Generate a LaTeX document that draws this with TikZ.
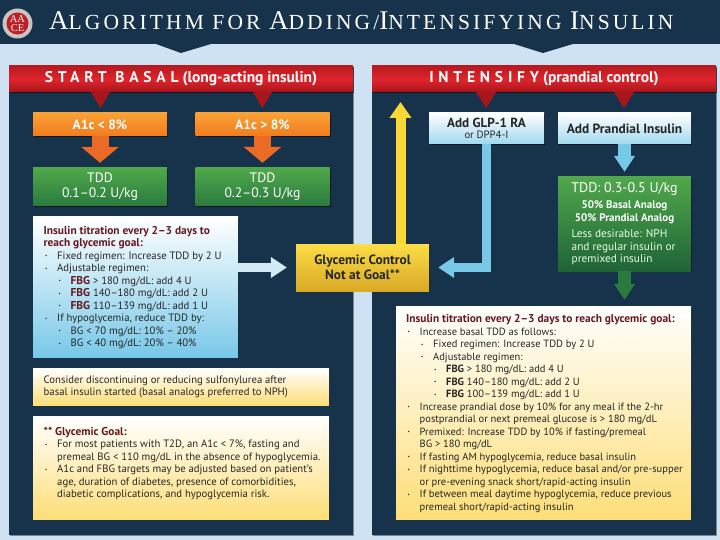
\documentclass[tikz,border=0pt]{standalone}
\usepackage{fontspec}
\setmainfont{PT Sans}
\newfontfamily\titlefont[LetterSpace=14.5]{Liberation Serif}
\usetikzlibrary{arrows.meta,shadows}
\definecolor{navy}{HTML}{17324B}
\definecolor{pagebg}{HTML}{CFE2F3}
\definecolor{bandtop}{HTML}{B8191F}
\definecolor{bandmid}{HTML}{E0242C}
\definecolor{bandlow}{HTML}{A8161C}
\definecolor{maroon}{HTML}{651A20}
\definecolor{skyarrow}{HTML}{78C8E8}
\definecolor{palearrow}{HTML}{D3E9F4}
\definecolor{inktext}{HTML}{262626}
\definecolor{orangetop}{HTML}{F9A235}
\definecolor{orangelow}{HTML}{F17B20}
\definecolor{orangearrow}{HTML}{EB6A26}
\definecolor{greentop}{HTML}{50A84B}
\definecolor{greenlow}{HTML}{2A7A3F}
\definecolor{greendeep}{HTML}{1F6337}
\definecolor{greenarrow}{HTML}{2A7A40}
\definecolor{goldtop}{HTML}{FBDD45}
\definecolor{goldlow}{HTML}{D9A926}
\definecolor{goldarrow}{HTML}{F9D836}
\definecolor{creamlow}{HTML}{FDDE78}
% list lines
\newcommand{\dotm}{{\fontsize{5}{5}\selectfont\raisebox{1.4pt}{•}}}
\newcommand{\lone}[1]{\hspace*{1.5pt}\makebox[12pt][l]{\dotm}#1}
\newcommand{\ltwo}[1]{\hspace*{15pt}\makebox[12pt][l]{\dotm}#1}
\newcommand{\lthree}[1]{\hspace*{28pt}\makebox[12pt][l]{\dotm}#1}
\newcommand{\lcont}[1]{\hspace*{13.5pt}#1}
\newcommand{\hd}[1]{\textcolor{maroon}{\fontsize{11.4}{12.5}\selectfont\textbf{#1}}}
\newcommand{\spaced}[1]{{\addfontfeature{LetterSpace=31}#1}}
\tikzset{
  box/.style={rectangle,inner sep=0pt,drop shadow={shadow xshift=1.2pt,shadow yshift=-1.2pt,opacity=0.55,fill=black}},
  panel/.style={rectangle,inner sep=0pt,fill=navy,minimum width=344pt,minimum height=469pt,drop shadow={shadow xshift=1.2pt,shadow yshift=-1.2pt,opacity=0.4,fill=black}},
  band/.style={box,minimum width=344pt,minimum height=26pt,top color=bandtop,bottom color=bandlow,middle color=bandmid,text=white,font=\fontsize{15.5}{17}\selectfont\bfseries},
  orangebox/.style={box,minimum width=134pt,minimum height=23pt,top color=orangetop,bottom color=orangelow,text=white,font=\fontsize{13.5}{15}\selectfont\bfseries},
  greenbox/.style={box,minimum width=134pt,minimum height=38pt,top color=greentop,bottom color=greenlow,text=white,font=\fontsize{13.7}{15}\selectfont,align=center},
  bluebox/.style={box,top color=white,bottom color=skyarrow},
  creambox/.style={box,top color=white,bottom color=creamlow},
  notetext/.style={inner sep=0pt,anchor=north west,align=left,text=inktext,font=\fontsize{10.7}{12.5}\selectfont},
  blockarrow/.style={line width=#1pt,-{Triangle[length=16pt,width=20pt]}},
  blockarrow/.default=9,
}
\begin{document}
\begin{tikzpicture}[x=1pt,y=-1pt]
\useasboundingbox (0,0) rectangle (720,540);
\fill[pagebg] (0,0) rectangle (720,540);
% ---------- header ----------
\fill[navy] (0,0) -- (720,0) -- (720,44) -- (573,44) -- (543,53) -- (514,44) -- (211,44) -- (181,53) -- (156,44) -- (0,44) -- cycle;
\node[circle,inner sep=0pt,minimum size=30pt,fill=gray!45] (logoring) at (17.5,23.5) {};
\node[circle,inner sep=0pt,minimum size=22pt,fill=bandmid!85!black,text=white,align=center,font=\fontspec{Liberation Serif}\fontsize{10.5}{9}\selectfont] (logo) at (17.5,23.5) {AA\\CE};
\node[anchor=base west,inner sep=0pt,text=white,font=\titlefont\fontsize{21.5}{24}\selectfont] (title) at (49,30) {{\fontsize{27}{27}\selectfont A}LGORITHM FOR {\fontsize{27}{27}\selectfont A}DDING/{\fontsize{27}{27}\selectfont I}NTENSIFYING {\fontsize{27}{27}\selectfont I}NSULIN};
% ---------- panels ----------
\node[panel] (basalpanel) at (181,300.5) {};
\node[panel] (intpanel) at (544,300.5) {};
\node[band] (basalband) at (181,79) {\spaced{START BASAL} (long-acting insulin)};
\node[band] (intband) at (544,79) {\spaced{INTENSIFY} (prandial control)};
\fill[bandlow] (91,92) -- (110,92) -- (100.5,108) -- cycle;
\fill[bandlow] (253,92) -- (272,92) -- (262.5,108) -- cycle;
\fill[bandlow] (476,92) -- (496,92) -- (486,108) -- cycle;
\fill[bandlow] (614,92) -- (634,92) -- (624,108) -- cycle;
% ---------- start basal ----------
\node[orangebox] (lowa) at (100,124.5) {A1c < 8\%};
\node[orangebox] (higha) at (262.5,124.5) {A1c > 8\%};
\node[greenbox] (lowtdd) at (100,187) {TDD\\0.1--0.2 U/kg};
\node[greenbox] (hightdd) at (262.5,187) {TDD\\0.2--0.3 U/kg};
\draw[orangearrow,line width=17pt,-{Triangle[length=16pt,width=37pt]},shorten >=5pt] (lowa.south) -- (lowtdd.north);
\draw[orangearrow,line width=17pt,-{Triangle[length=16pt,width=37pt]},shorten >=5pt] (higha.south) -- (hightdd.north);
\node[bluebox,minimum width=205pt,minimum height=140pt] (titr) at (135.5,287) {};
\node[notetext] (titrtext) at (43.5,226) {\hd{Insulin titration every 2--3 days to}\\
\hd{reach glycemic goal:}\\
\lone{Fixed regimen: Increase TDD by 2 U}\\
\lone{Adjustable regimen:}\\
\ltwo{\hd{FBG} > 180 mg/dL: add 4 U}\\
\ltwo{\hd{FBG} 140--180 mg/dL: add 2 U}\\
\ltwo{\hd{FBG} 110--139 mg/dL: add 1 U}\\
\lone{If hypoglycemia, reduce TDD by:}\\
\ltwo{BG < 70 mg/dL: 10\% -- 20\%}\\
\ltwo{BG < 40 mg/dL: 20\% -- 40\%}};
\node[creambox,minimum width=296pt,minimum height=37pt] (sulfo) at (181,386.5) {};
\node[notetext] (sulfotext) at (43.5,375.5) {Consider discontinuing or reducing sulfonylurea after\\
basal insulin started (basal analogs preferred to NPH)};
\node[creambox,minimum width=296pt,minimum height=103pt] (goalnote) at (181,467.5) {};
\node[notetext] (goalnotetext) at (43.5,426.5) {\hd{** Glycemic Goal:}\\
\lone{For most patients with T2D, an A1c < 7\%, fasting and}\\
\lcont{premeal BG < 110 mg/dL in the absence of hypoglycemia.}\\
\lone{A1c and FBG targets may be adjusted based on patient's}\\
\lcont{age, duration of diabetes, presence of comorbidities,}\\
\lcont{diabetic complications, and hypoglycemia risk.}};
% ---------- goal box ----------
\node[box,minimum width=133pt,minimum height=47pt,top color=goldtop,bottom color=goldlow,align=center,text=black!85,font=\fontsize{13.4}{15.5}\selectfont\bfseries] (goal) at (362.5,267.5) {Glycemic Control\\Not at Goal**};
% ---------- intensify ----------
\node[box,minimum width=115pt,minimum height=31pt,top color=white,bottom color=skyarrow!70!white,align=center,text=black!85] (glp) at (486.5,128.5) {{\fontsize{13.2}{14}\selectfont\bfseries Add GLP-1 RA}\\[-1pt]{\fontsize{10.7}{11}\selectfont or DPP4-I}};
\node[box,minimum width=133pt,minimum height=31pt,top color=white,bottom color=skyarrow!70!white,text=black!85,font=\fontsize{13.4}{15}\selectfont\bfseries] (prand) at (624.5,128.5) {Add Prandial Insulin};
\node[box,minimum width=133pt,minimum height=94pt,top color=greentop,bottom color=greendeep] (tddc) at (624.5,224) {};
\node[inner sep=0pt,text=white,font=\fontsize{14}{16}\selectfont] (tddchead) at (624.5,189) {TDD: 0.3-0.5 U/kg};
\node[inner sep=0pt,text=white,align=center,font=\fontsize{11}{12.5}\selectfont\bfseries] (tddcmix) at (624.5,212) {50\% Basal Analog\\50\% Prandial Analog};
\node[inner sep=0pt,anchor=north west,text=white!90!green,align=left,font=\fontsize{11.3}{12.5}\selectfont] (tddcless) at (571.5,229.5) {Less desirable: NPH\\and regular insulin or\\premixed insulin};
\node[creambox,minimum width=295pt,minimum height=213pt] (titrc) at (543.5,412.5) {};
\node[notetext,font=\fontsize{10.5}{12.5}\selectfont] (titrctext) at (406,314.5) {\hd{Insulin titration every 2--3 days to reach glycemic goal:}\\
\lone{Increase basal TDD as follows:}\\
\ltwo{Fixed regimen: Increase TDD by 2 U}\\
\ltwo{Adjustable regimen:}\\
\lthree{\textbf{FBG} > 180 mg/dL: add 4 U}\\
\lthree{\textbf{FBG} 140--180 mg/dL: add 2 U}\\
\lthree{\textbf{FBG} 100--139 mg/dL: add 1 U}\\
\lone{Increase prandial dose by 10\% for any meal if the 2-hr}\\
\lcont{postprandial or next premeal glucose is > 180 mg/dL}\\
\lone{Premixed: Increase TDD by 10\% if fasting/premeal}\\
\lcont{BG > 180 mg/dL}\\
\lone{If fasting AM hypoglycemia, reduce basal insulin}\\
\lone{If nighttime hypoglycemia, reduce basal and/or pre-supper}\\
\lcont{or pre-evening snack short/rapid-acting insulin}\\
\lone{If between meal daytime hypoglycemia, reduce previous}\\
\lcont{premeal short/rapid-acting insulin}};
% ---------- connectors ----------
\coordinate (uptip) at (400.5,102);
\draw[blockarrow,palearrow,shorten >=9pt] (titr.east |- goal.west) -- (goal.west);
\draw[blockarrow,skyarrow,shorten >=9pt] (glp.south) |- (goal.east);
\draw[goldarrow,line width=10pt,-{Triangle[length=16pt,width=21pt]}] (goal.north -| uptip) -- (uptip);
\draw[skyarrow,line width=13pt,-{Triangle[length=16pt,width=20pt]},shorten >=5pt] (prand.south) -- (tddc.north);
\draw[greenarrow,line width=13pt,-{Triangle[length=16pt,width=20pt]},shorten >=6pt] (tddc.south) -- (titrc.north -| tddc.south);
\end{tikzpicture}
\end{document}
